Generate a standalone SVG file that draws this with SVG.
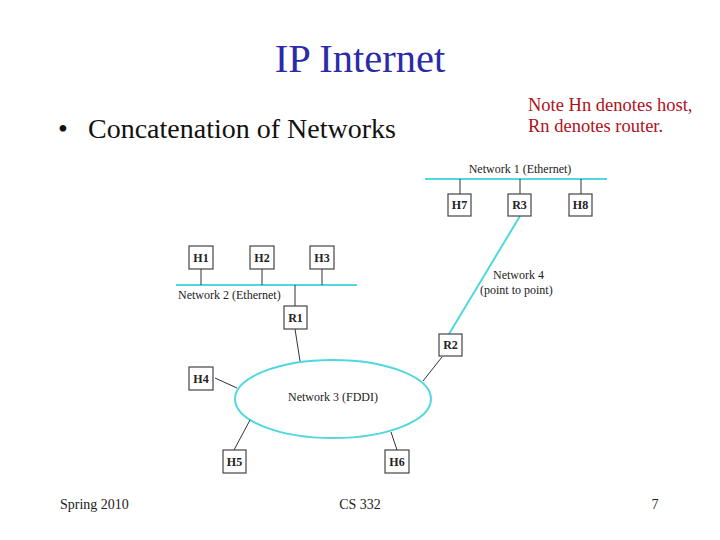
<svg xmlns="http://www.w3.org/2000/svg" width="720" height="540" viewBox="0 0 720 540">
<style>
.title{font-family:"Liberation Serif","Times New Roman",serif;font-size:40.5px;fill:#2b2ba8}
.bullet{font-family:"Liberation Serif","Times New Roman",serif;font-size:28px;fill:#111}
.note{font-family:"Liberation Serif",serif;font-size:18.5px;fill:#b01020}
.foot{font-family:"Liberation Serif",serif;font-size:14px;fill:#222}
.lbl{font-family:"Liberation Serif",serif;font-size:12px;fill:#222}
.box rect{fill:#fff;stroke:#444;stroke-width:1.2}
.box text{font-family:"Liberation Serif",serif;font-size:12px;font-weight:bold;fill:#222;text-anchor:middle}
.net{stroke:#4fd8e0;stroke-width:2;fill:none}
.wire{stroke:#333;stroke-width:1;fill:none}
</style>
<rect width="720" height="540" fill="#fff"/>
<text class="title" x="360" y="72" text-anchor="middle">IP Internet</text>
<text class="bullet" x="58" y="138">•</text>
<text class="bullet" x="88" y="138">Concatenation of Networks</text>
<text class="note" x="528" y="111">Note Hn denotes host,</text>
<text class="note" x="528" y="132">Rn denotes router.</text>

<g id="connectors">
<line class="net" x1="425" y1="179" x2="607" y2="179"/>
<line class="net" x1="176" y1="285" x2="357" y2="285"/>
<ellipse class="net" cx="333" cy="399" rx="98" ry="39"/>
<line class="net" x1="520" y1="216" x2="449" y2="334"/>
<line class="wire" x1="460" y1="179" x2="460" y2="194"/>
<line class="wire" x1="520" y1="179" x2="520" y2="194"/>
<line class="wire" x1="581" y1="179" x2="581" y2="194"/>
<line class="wire" x1="201" y1="269" x2="201" y2="285"/>
<line class="wire" x1="262" y1="269" x2="262" y2="285"/>
<line class="wire" x1="322" y1="269" x2="322" y2="285"/>
<line class="wire" x1="295" y1="285" x2="295" y2="306"/>
<line class="wire" x1="295" y1="329" x2="300" y2="361"/>
<line class="wire" x1="215" y1="378" x2="237" y2="388"/>
<line class="wire" x1="234" y1="450" x2="250" y2="420"/>
<line class="wire" x1="397" y1="450" x2="391" y2="432"/>
<line class="wire" x1="442" y1="357" x2="423" y2="381"/>
</g>

<text class="lbl" x="520" y="173" text-anchor="middle">Network 1 (Ethernet)</text>
<text class="lbl" x="178" y="299">Network 2 (Ethernet)</text>
<text class="lbl" x="333" y="401" text-anchor="middle">Network 3 (FDDI)</text>
<text class="lbl" x="493" y="279">Network 4</text>
<text class="lbl" x="480" y="294">(point to point)</text>

<g id="H7" class="box"><rect x="448" y="194" width="23" height="22"/><text x="459.5" y="209">H7</text></g>
<g id="R3" class="box"><rect x="508" y="194" width="23" height="22"/><text x="519.5" y="209">R3</text></g>
<g id="H8" class="box"><rect x="569" y="194" width="23" height="22"/><text x="580.5" y="209">H8</text></g>
<g id="H1" class="box"><rect x="189" y="246" width="24" height="23"/><text x="201" y="262">H1</text></g>
<g id="H2" class="box"><rect x="250" y="246" width="24" height="23"/><text x="262" y="262">H2</text></g>
<g id="H3" class="box"><rect x="310" y="246" width="24" height="23"/><text x="322" y="262">H3</text></g>
<g id="R1" class="box"><rect x="284" y="306" width="23" height="23"/><text x="295.5" y="322">R1</text></g>
<g id="R2" class="box"><rect x="439" y="334" width="23" height="22"/><text x="450.5" y="349">R2</text></g>
<g id="H4" class="box"><rect x="189" y="367" width="24" height="23"/><text x="201" y="383">H4</text></g>
<g id="H5" class="box"><rect x="223" y="450" width="23" height="23"/><text x="234.5" y="466">H5</text></g>
<g id="H6" class="box"><rect x="385" y="450" width="24" height="23"/><text x="397" y="466">H6</text></g>

<text class="foot" x="60" y="509">Spring 2010</text>
<text class="foot" x="360" y="509" text-anchor="middle">CS 332</text>
<text class="foot" x="655" y="509" text-anchor="middle">7</text>
</svg>
